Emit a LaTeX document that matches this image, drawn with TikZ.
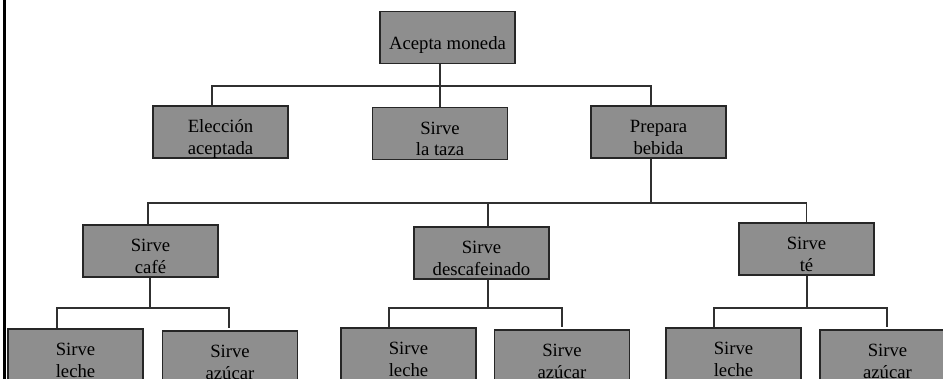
\documentclass[tikz,border=0pt]{standalone}
\usepackage{fontspec}
\setmainfont{Liberation Serif}
\begin{document}
\begin{tikzpicture}[x=1pt,y=-1pt,
  task/.style={draw=boxline, fill=boxfill, line width=1.5pt, rectangle,
    minimum width=135pt, minimum height=52pt, inner sep=0pt, align=center,
    text height=47pt, text depth=2.6pt,
    font=\fontsize{18.7}{21.7}\selectfont},
  oneline/.style={text height=27pt, text depth=3.4pt},
  link/.style={draw=linkcol, line width=1.5pt}]
\definecolor{boxfill}{HTML}{8E8E8E}
\definecolor{boxline}{HTML}{262626}
\definecolor{linkcol}{HTML}{303030}
\useasboundingbox (0,0) rectangle (943,378);
\clip (0,0) rectangle (943,378);

% left margin rule
\draw[line width=3.4pt, black] (4.7,-5) -- (4.7,383);

% level 1
\node[task, oneline] (top) at (447.5,37.5) {Acepta moneda};

% level 2
\node[task] (elec) at (220.5,132) {Elección\\aceptada};
\node[task] (taza) at (440,133.5) {Sirve\\la taza};
\node[task] (prep) at (658.5,132) {Prepara\\bebida};

% level 3
\node[task] (cafe) at (150.5,251) {Sirve\\café};
\node[task] (desc) at (481.5,253) {Sirve\\descafeinado};
\node[task] (te) at (806.5,249) {Sirve\\té};

% level 4
\node[task] (lecheA) at (75.5,355) {Sirve\\leche};
\node[task] (azucA) at (230,357) {Sirve\\azúcar};
\node[task] (lecheB) at (408.5,354) {Sirve\\leche};
\node[task] (azucB) at (562,356) {Sirve\\azúcar};
\node[task] (lecheC) at (733.5,354) {Sirve\\leche};
\node[task] (azucC) at (887.5,356) {Sirve\\azúcar};

% junction points of the connector trees
\coordinate (j1) at (440,86);
\coordinate (j2) at (651,203);
\coordinate (j3) at (150,308);
\coordinate (j4) at (488,308);
\coordinate (j5) at (807,308);

% Acepta moneda -> level 2
\draw[link] (top.south -| j1) -- (j1);
\draw[link] ([xshift=-8.5pt]elec.north) |- (j1) -| ([xshift=-7.5pt]prep.north);
\draw[link] (j1) -- (taza.north);

% Prepara bebida -> level 3
\draw[link] (prep.south -| j2) -- (j2);
\draw[link] ([xshift=-2.5pt]cafe.north) |- (j2) -| (te.north);
\draw[link] ([xshift=6.5pt]desc.north) -- ([xshift=6.5pt]desc.north |- j2);

% Sirve café -> level 4
\draw[link] (cafe.south -| j3) -- (j3);
\draw[link] ([xshift=-18.5pt]lecheA.north) |- (j3) -| ([xshift=-1pt,yshift=2pt]azucA.north);

% Sirve descafeinado -> level 4
\draw[link] (desc.south -| j4) -- (j4);
\draw[link] ([xshift=-19.5pt]lecheB.north) |- (j4) -| ([yshift=2pt]azucB.north);

% Sirve té -> level 4
\draw[link] (te.south -| j5) -- (j5);
\draw[link] ([xshift=-19.5pt]lecheC.north) |- (j5) -| ([xshift=-0.5pt,yshift=2pt]azucC.north);
\end{tikzpicture}
\end{document}
